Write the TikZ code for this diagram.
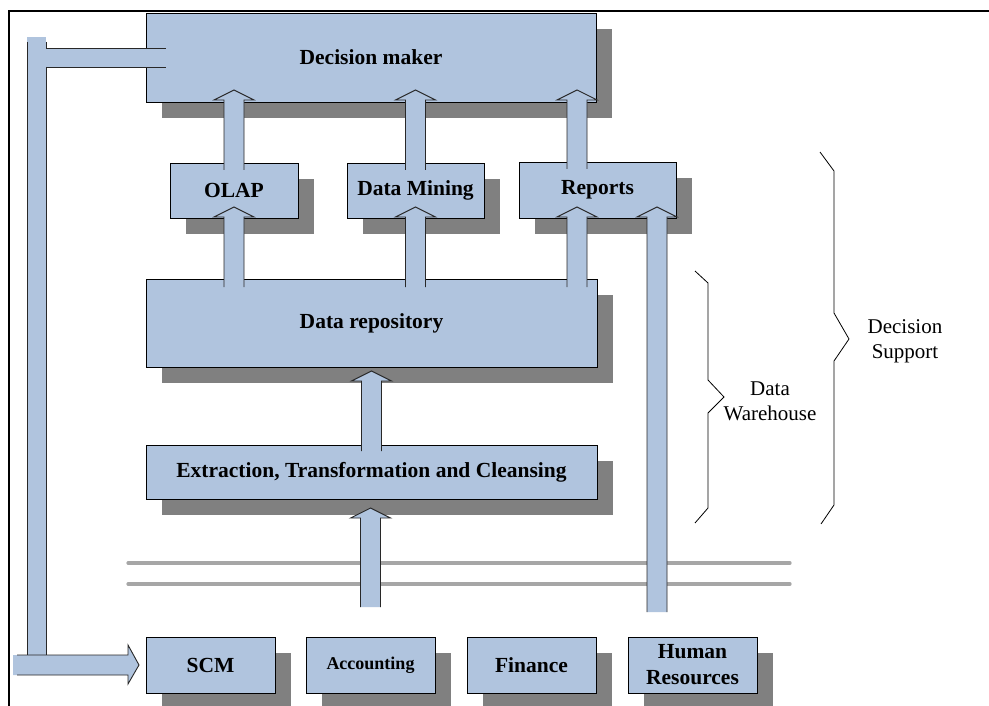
\documentclass[tikz,border=0pt]{standalone}
\usepackage{fontspec}
\setmainfont{Liberation Serif}
\usetikzlibrary{shadows,calc}
\definecolor{boxblue}{RGB}{176,196,222}
\definecolor{shadowgray}{RGB}{128,128,128}
\definecolor{railgray}{RGB}{166,166,166}
\definecolor{edgegray}{RGB}{40,40,40}
\tikzset{
  box/.style={draw=black, line width=0.9pt, fill=boxblue, inner sep=0pt, outer sep=0pt,
    font=\fontsize{21.5}{26}\selectfont\bfseries, align=center,
    general shadow={fill=shadowgray, shadow xshift=16pt, shadow yshift=-16pt}},
  arrfill/.style={fill=boxblue},
  arrline/.style={draw=edgegray, line width=0.9pt, line join=miter},
  brace/.style={draw=black, line width=0.8pt},
  rail/.style={draw=railgray, line width=3.2pt, line cap=round},
  lbl/.style={font=\fontsize{21}{25}\selectfont, align=center, inner sep=0pt},
}
% #1 source node, #2 target node, #3 x offset from source centre (px),
% #4 length of shaft inside source (px, negative = gap), #5 tip height above target bottom (px)
\newcommand\blockarr[5]{%
  \coordinate (ab) at ([xshift={#3pt}, yshift={-1pt*(#4)}]#1.north);
  \coordinate (at) at ([yshift={1pt*(#5)}]#2.south);
  \path[arrfill] let \p1=(ab), \p2=(at) in
    ({\x1-10pt},{\y1}) -- ({\x1-10pt},{\y2-10pt}) -- ({\x1-20pt},{\y2-10pt}) -- ({\x1},{\y2})
    -- ({\x1+20pt},{\y2-10pt}) -- ({\x1+10pt},{\y2-10pt}) -- ({\x1+10pt},{\y1}) -- cycle;
  \path[arrline] let \p1=(ab), \p2=(at) in
    ({\x1-10pt},{\y1}) -- ({\x1-10pt},{\y2-10pt}) -- ({\x1-20pt},{\y2-10pt}) -- ({\x1},{\y2})
    -- ({\x1+20pt},{\y2-10pt}) -- ({\x1+10pt},{\y2-10pt}) -- ({\x1+10pt},{\y1});
}
\begin{document}
\begin{tikzpicture}[x=1pt, y=-1pt]
\useasboundingbox (0,0) rectangle (989,706);
\fill[white] (0,0) rectangle (989,706);
% frame
\draw[line width=2pt] (9,710) -- (9,11) -- (995,11);

% boxes
\node[box, minimum width=450pt, minimum height=89pt] (dm) at (371,57.5) {Decision maker};
\node[box, minimum width=128pt, minimum height=55pt] (olap) at (234,190.5) {OLAP};
\node[box, minimum width=137pt, minimum height=55pt] (mining) at (415.5,190.5) {Data Mining};
\node[box, minimum width=157pt, minimum height=56pt] (reports) at (597.5,190) {\raisebox{-2pt}{Reports}};
\node[box, minimum width=451pt, minimum height=88pt] (repo) at (371.5,323) {Data repository};
\node[box, minimum width=451pt, minimum height=54pt] (etl) at (371.5,472) {Extraction, Transformation and Cleansing};
\node[box, minimum width=129pt, minimum height=56pt] (scm) at (210.5,665) {SCM};
\node[box, minimum width=129pt, minimum height=56pt, font=\fontsize{18}{22}\selectfont\bfseries] (acc) at (370.5,665) {Accounting};
\node[box, minimum width=129pt, minimum height=56pt] (fin) at (531.5,665) {Finance};
\node[box, minimum width=129pt, minimum height=56pt] (hr) at (692.5,665) {Human\\Resources};

% rails
\draw[rail] (128,563) -- (790,563);
\draw[rail] (128,584) -- (790,584);

% block arrows
\blockarr{olap}{dm}{0}{7}{12}
\blockarr{mining}{dm}{0}{7}{12}
\blockarr{reports}{dm}{-20.5}{7}{12}
\blockarr{repo}{olap}{-137.5}{8}{11}
\blockarr{repo}{mining}{44}{8}{11}
\blockarr{repo}{reports}{205.5}{8}{11}
\blockarr{etl}{repo}{0}{6}{-4}
\blockarr{acc}{etl}{0}{-30}{-9}
\blockarr{hr}{reports}{-35.5}{-25}{11}

% feedback L-shaped arrow from decision maker to SCM
\coordinate (ltop) at ([xshift=20pt]dm.west);
\coordinate (ltip) at ([xshift=-7pt]scm.west);
\fill[boxblue] (27,37) rectangle (46,655);
\path[arrfill] let \p1=(ltop) in (46,{\y1+9.5pt}) rectangle ({\x1},{\y1-9.5pt});
\path[arrline] let \p1=(ltop) in (46,{\y1+9.5pt}) -- ({\x1},{\y1+9.5pt}) (46,{\y1-9.5pt}) -- ({\x1},{\y1-9.5pt});
\draw[arrline] (27,42) -- (27,655) (46,42) -- (46,48) (46,67) -- (46,655);
\path[arrfill] let \p1=(ltip) in (13,{\y1+10pt}) -- ({\x1-11pt},{\y1+10pt}) -- ({\x1-11pt},{\y1+20pt}) -- (\x1,\y1)
  -- ({\x1-11pt},{\y1-19pt}) -- ({\x1-11pt},{\y1-10pt}) -- (13,{\y1-10pt}) -- cycle;
\path[arrline] let \p1=(ltip) in (17,{\y1+10pt}) -- ({\x1-11pt},{\y1+10pt}) -- ({\x1-11pt},{\y1+20pt}) -- (\x1,\y1)
  -- ({\x1-11pt},{\y1-19pt}) -- ({\x1-11pt},{\y1-10pt}) -- (17,{\y1-10pt});

% braces
\draw[brace] (695,271) -- (708,283) -- (708,380) -- (724,397) -- (708,413) -- (708,508) -- (695,523);
\draw[brace] (820,152) -- (834,171) -- (834,313) -- (849,339) -- (834,361) -- (834,505) -- (821,524);
\node[lbl] (dwlabel) at (770,401) {Data\\Warehouse};
\node[lbl] (dslabel) at (905,341) {Decision\\Support};
\end{tikzpicture}
\end{document}
